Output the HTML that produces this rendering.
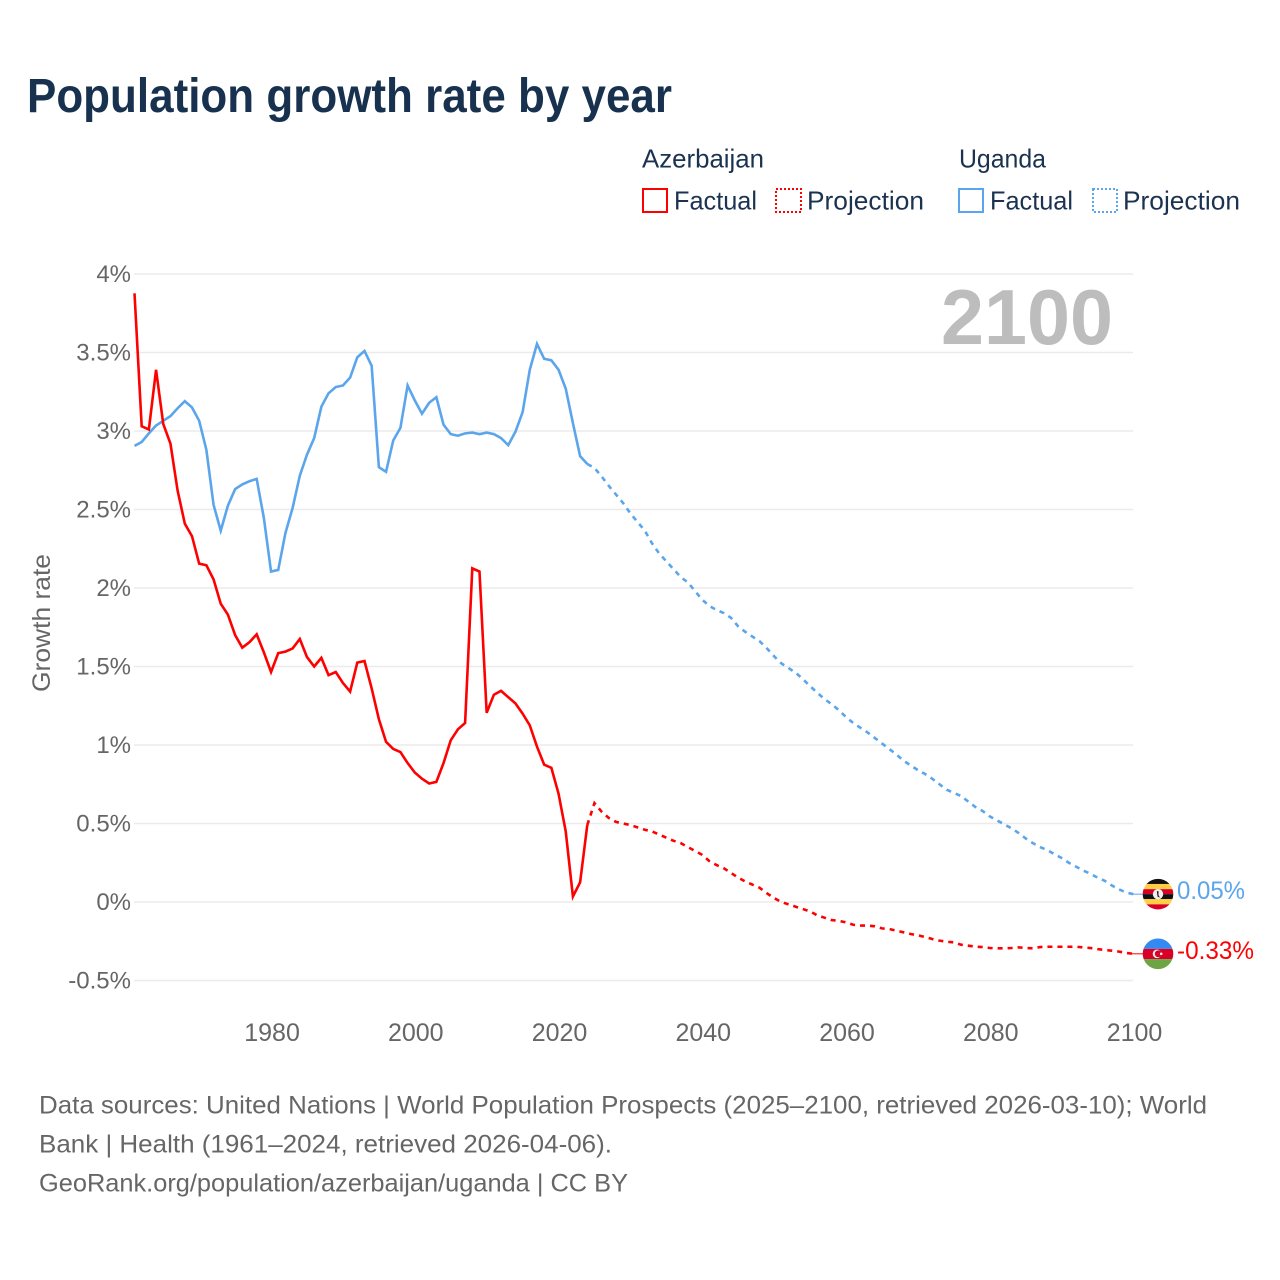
<!DOCTYPE html>
<html lang="en">
<head>
<meta charset="utf-8">
<title>Population growth rate by year</title>
<style>
html,body{margin:0;padding:0;background:#fff;}
svg{display:block;font-family:"Liberation Sans",sans-serif;}
</style>
</head>
<body>
<svg id="chart" xmlns="http://www.w3.org/2000/svg" width="1280" height="1280" viewBox="0 0 1280 1280">
  <rect x="0" y="0" width="1280" height="1280" fill="#ffffff"/>
  <text x="27" y="112" font-size="48" font-weight="bold" fill="#17314f" textLength="645" lengthAdjust="spacingAndGlyphs">Population growth rate by year</text>

  <g font-size="26" fill="#1b3350">
    <text x="642" y="167.5" textLength="122" lengthAdjust="spacingAndGlyphs">Azerbaijan</text>
    <rect x="643" y="189" width="24" height="23" fill="none" stroke="#ff0000" stroke-width="2"/>
    <text x="674" y="209.5" textLength="83" lengthAdjust="spacingAndGlyphs">Factual</text>
    <rect x="776" y="189" width="25" height="23" fill="none" stroke="#ff0000" stroke-width="2" stroke-dasharray="2 2"/>
    <text x="807" y="209.5" textLength="117" lengthAdjust="spacingAndGlyphs">Projection</text>
    <text x="959" y="167.5" textLength="87" lengthAdjust="spacingAndGlyphs">Uganda</text>
    <rect x="959" y="189" width="24" height="23" fill="none" stroke="#5aa5ec" stroke-width="2"/>
    <text x="990" y="209.5" textLength="83" lengthAdjust="spacingAndGlyphs">Factual</text>
    <rect x="1093" y="189" width="24" height="23" fill="none" stroke="#5aa5ec" stroke-width="2" stroke-dasharray="2 2"/>
    <text x="1123" y="209.5" textLength="117" lengthAdjust="spacingAndGlyphs">Projection</text>
  </g>

  <g id="grid"></g>
  <g id="yticks" font-size="24" fill="#666666" text-anchor="end"></g>
  <g id="xticks" font-size="25" fill="#666666" text-anchor="middle"></g>

  <text transform="translate(50,692) rotate(-90)" font-size="25" fill="#666666" textLength="138" lengthAdjust="spacingAndGlyphs">Growth rate</text>
  <text x="941" y="344" font-size="78" font-weight="bold" fill="#bdbdbd" textLength="172" lengthAdjust="spacingAndGlyphs">2100</text>

  <g id="series"></g>

  <defs>
    <clipPath id="flag-ug-clip"><circle cx="0" cy="0" r="15.3"/></clipPath>
    <clipPath id="flag-az-clip"><circle cx="0" cy="0" r="15.3"/></clipPath>
  </defs>

  <g id="flag-uganda">
    <g clip-path="url(#flag-ug-clip)">
      <rect x="-16" y="-16" width="32" height="6" fill="#111111"/>
      <rect x="-16" y="-10.2" width="32" height="5.2" fill="#ffce44"/>
      <rect x="-16" y="-5" width="32" height="5" fill="#d80027"/>
      <rect x="-16" y="0" width="32" height="5" fill="#111111"/>
      <rect x="-16" y="5" width="32" height="5.2" fill="#ffce44"/>
      <rect x="-16" y="10.2" width="32" height="6" fill="#d80027"/>
    </g>
    <circle cx="0" cy="0" r="5.2" fill="#f0f0f0"/>
    <path d="M-1.2 -3 L0.5 -3 L0.5 1 L2 3.5 L-0.5 2.5 Z" fill="#222222"/>
  </g>

  <g id="flag-azerbaijan">
    <g clip-path="url(#flag-az-clip)">
      <rect x="-16" y="-16" width="32" height="11" fill="#338af3"/>
      <rect x="-16" y="-5" width="32" height="10.3" fill="#d80027"/>
      <rect x="-16" y="5.3" width="32" height="11" fill="#6da544"/>
    </g>
    <circle cx="-1" cy="0" r="4.3" fill="#f0f0f0"/>
    <circle cx="0.2" cy="0" r="3.4" fill="#d80027"/>
    <circle cx="3.2" cy="0" r="1.3" fill="#f0f0f0"/>
  </g>

  <text id="label-uganda" x="1177" font-size="25" fill="#5aa5ec" textLength="68" lengthAdjust="spacingAndGlyphs"></text>
  <text id="label-azerbaijan" x="1177" font-size="25" fill="#ff0000" textLength="77" lengthAdjust="spacingAndGlyphs"></text>

  <g font-size="25" fill="#666666">
    <text x="39" y="1113.5" textLength="1168" lengthAdjust="spacingAndGlyphs">Data sources: United Nations | World Population Prospects (2025–2100, retrieved 2026-03-10); World</text>
    <text x="39" y="1152.5" textLength="573" lengthAdjust="spacingAndGlyphs">Bank | Health (1961–2024, retrieved 2026-04-06).</text>
    <text x="39" y="1191.5" textLength="589" lengthAdjust="spacingAndGlyphs">GeoRank.org/population/azerbaijan/uganda | CC BY</text>
  </g>
</svg>

<script>
const yTickValues = [-0.5, 0, 0.5, 1, 1.5, 2, 2.5, 3, 3.5, 4];
const yTickLabels = ["-0.5%", "0%", "0.5%", "1%", "1.5%", "2%", "2.5%", "3%", "3.5%", "4%"];
const xTickYears = [1980, 2000, 2020, 2040, 2060, 2080, 2100];
const factualStartYear = 1961;
const projectionStartYear = 2024;

const azerbaijanFactual = [
  3.877,3.03,3.01,3.39,3.045,2.92,2.62,2.41,2.33,2.155,
  2.145,2.055,1.90,1.83,1.70,1.62,1.655,1.705,1.59,1.465,
  1.585,1.595,1.615,1.675,1.56,1.50,1.555,1.445,1.465,1.395,
  1.34,1.525,1.535,1.36,1.165,1.02,0.975,0.955,0.885,0.825,
  0.785,0.755,0.765,0.885,1.03,1.10,1.14,2.125,2.105,1.205,
  1.32,1.345,1.305,1.265,1.20,1.125,0.99,0.875,0.855,0.69,
  0.45,0.035,0.125,0.49
];
const ugandaFactual = [
  2.905,2.93,2.985,3.035,3.065,3.095,3.145,3.19,3.15,3.065,
  2.88,2.53,2.365,2.525,2.63,2.66,2.68,2.695,2.445,2.105,
  2.115,2.35,2.51,2.715,2.85,2.955,3.155,3.24,3.28,3.29,
  3.34,3.47,3.51,3.415,2.77,2.74,2.94,3.02,3.29,3.195,
  3.11,3.18,3.215,3.04,2.98,2.97,2.985,2.99,2.98,2.99,
  2.98,2.955,2.91,2.995,3.12,3.39,3.555,3.46,3.45,3.39,
  3.27,3.05,2.84,2.79
];
const azerbaijanProjection = [
  0.49,
  0.63,0.575,0.535,0.51,0.50,0.49,
  0.475,0.46,0.45,0.43,0.41,0.39,0.375,0.35,0.325,0.30,
  0.26,0.235,0.215,0.185,0.155,0.13,0.11,0.09,0.055,0.025,
  0,-0.015,-0.03,-0.045,-0.06,-0.085,-0.10,-0.115,-0.12,-0.13,
  -0.145,-0.15,-0.15,-0.155,-0.168,-0.172,-0.183,-0.193,-0.204,-0.212,
  -0.223,-0.236,-0.246,-0.253,-0.257,-0.272,-0.278,-0.285,-0.287,-0.293,
  -0.295,-0.295,-0.293,-0.289,-0.293,-0.295,-0.287,-0.285,-0.285,-0.285,
  -0.285,-0.285,-0.289,-0.293,-0.30,-0.306,-0.31,-0.316,-0.325,-0.33
];
const ugandaProjection = [
  2.79,
  2.765,2.71,2.65,2.595,2.54,2.475,
  2.42,2.365,2.285,2.22,2.17,2.12,2.07,2.035,1.98,1.925,
  1.885,1.86,1.84,1.81,1.755,1.72,1.69,1.66,1.615,1.565,
  1.52,1.49,1.46,1.42,1.375,1.333,1.293,1.26,1.222,1.178,
  1.14,1.11,1.08,1.045,1.01,0.975,0.94,0.90,0.87,0.84,
  0.815,0.785,0.75,0.715,0.695,0.675,0.64,0.605,0.58,0.545,
  0.52,0.495,0.47,0.44,0.405,0.375,0.35,0.33,0.305,0.28,
  0.25,0.225,0.20,0.18,0.155,0.135,0.105,0.08,0.06,0.05
];
const endLabelUganda = "0.05%";
const endLabelAzerbaijan = "-0.33%";

const SVG_NS = "http://www.w3.org/2000/svg";
const xScale = function (year) { return 134.5 + (year - 1961) * (1133.5 - 134.5) / 139; };
const yScale = function (value) { return 902 - value * 157; };

const gridGroup = document.getElementById("grid");
const yTickGroup = document.getElementById("yticks");
const xTickGroup = document.getElementById("xticks");
const seriesGroup = document.getElementById("series");

yTickValues.forEach(function (value, i) {
  const line = document.createElementNS(SVG_NS, "line");
  line.setAttribute("x1", 134);
  line.setAttribute("x2", 1133);
  line.setAttribute("y1", yScale(value));
  line.setAttribute("y2", yScale(value));
  line.setAttribute("stroke", "#ebebeb");
  line.setAttribute("stroke-width", "1.6");
  
  
  gridGroup.appendChild(line);

  const label = document.createElementNS(SVG_NS, "text");
  label.setAttribute("x", 131);
  label.setAttribute("y", yScale(value) + 8);
  label.textContent = yTickLabels[i];
  
  
  yTickGroup.appendChild(label);
});

xTickYears.forEach(function (year) {
  const label = document.createElementNS(SVG_NS, "text");
  label.setAttribute("x", xScale(year) + 1);
  label.setAttribute("y", 1041);
  label.textContent = String(year);
  
  
  xTickGroup.appendChild(label);
});

function pathFrom(values, startYear) {
  return values.map(function (value, i) {
    return (i === 0 ? "M" : "L") + xScale(startYear + i).toFixed(2) + " " + yScale(value).toFixed(2);
  }).join(" ");
}

function drawSeries(values, startYear, color, dashed, name) {
  const path = document.createElementNS(SVG_NS, "path");
  path.setAttribute("d", pathFrom(values, startYear));
  path.setAttribute("fill", "none");
  path.setAttribute("stroke", color);
  path.setAttribute("stroke-width", "2.6");
  path.setAttribute("stroke-linejoin", "miter");
  if (dashed) {
    path.setAttribute("stroke-dasharray", "5 5");
  }
  
  
  seriesGroup.appendChild(path);
}

drawSeries(ugandaFactual, factualStartYear, "#5aa5ec", false, "uganda-factual-line");
drawSeries(ugandaProjection, projectionStartYear, "#5aa5ec", true, "uganda-projection-line");
drawSeries(azerbaijanFactual, factualStartYear, "#ff0000", false, "azerbaijan-factual-line");
drawSeries(azerbaijanProjection, projectionStartYear, "#ff0000", true, "azerbaijan-projection-line");

const ugandaEndValue = ugandaProjection[ugandaProjection.length - 1];
const azerbaijanEndValue = azerbaijanProjection[azerbaijanProjection.length - 1];

function drawConnector(value, color, name) {
  const link = document.createElementNS(SVG_NS, "line");
  link.setAttribute("x1", xScale(2100) - 2);
  link.setAttribute("x2", 1145);
  link.setAttribute("y1", yScale(value));
  link.setAttribute("y2", yScale(value));
  link.setAttribute("stroke", color);
  link.setAttribute("stroke-width", "1");
  
  
  seriesGroup.appendChild(link);
}
drawConnector(ugandaEndValue, "#5aa5ec", "uganda-end-connector");
drawConnector(azerbaijanEndValue, "#ff0000", "azerbaijan-end-connector");

document.getElementById("flag-uganda").setAttribute("transform", "translate(1158," + yScale(ugandaEndValue) + ")");
document.getElementById("flag-azerbaijan").setAttribute("transform", "translate(1158," + yScale(azerbaijanEndValue) + ")");

const labelUganda = document.getElementById("label-uganda");
labelUganda.setAttribute("y", yScale(ugandaEndValue) + 5);
labelUganda.textContent = endLabelUganda;
const labelAzerbaijan = document.getElementById("label-azerbaijan");
labelAzerbaijan.setAttribute("y", yScale(azerbaijanEndValue) + 5);
labelAzerbaijan.textContent = endLabelAzerbaijan;
</script>
</body>
</html>
